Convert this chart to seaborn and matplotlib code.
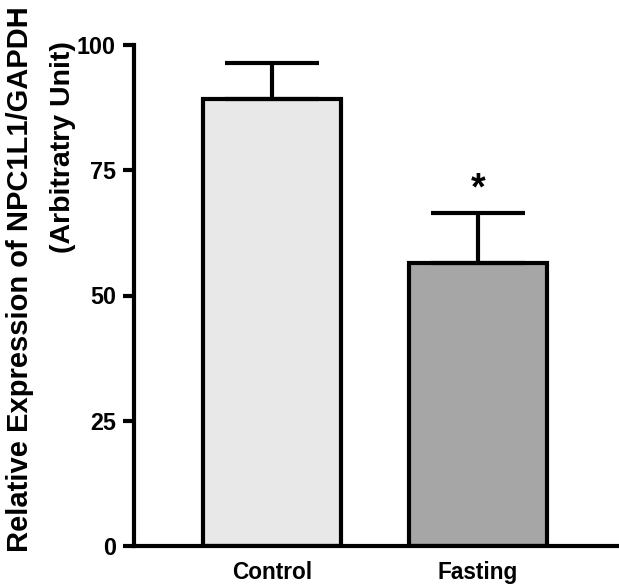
"""Bar chart: NPC1L1/GAPDH relative expression, control vs fasting."""

import matplotlib
matplotlib.use("Agg")
import matplotlib.pyplot as plt
import seaborn as sns
import pandas as pd

groups = ["Control", "Fasting"]
means = [89.3, 56.5]
errors = [7.1, 10.0]
bar_colors = ["#e8e8e8", "#a6a6a6"]
y_ticks = [0, 25, 50, 75, 100]

sns.set_style("ticks")
plt.rcParams["font.family"] = ["Liberation Sans", "DejaVu Sans"]
plt.rcParams["font.weight"] = "bold"
for key in ["text.color", "axes.edgecolor", "axes.labelcolor",
            "xtick.color", "ytick.color"]:
    plt.rcParams[key] = "black"

df = pd.DataFrame({"group": groups, "value": means})

fig = plt.figure(figsize=(6.19, 5.88), dpi=100)
ax = fig.add_axes([134 / 619, 42 / 588, 485 / 619, 501 / 588])

sns.barplot(data=df, x="group", y="value", hue="group", palette=bar_colors,
            width=0.67, edgecolor="black", linewidth=3, errorbar=None,
            legend=False, ax=ax)

# one-sided error bars (upper only)
ax.errorbar(range(len(groups)), means, yerr=[[0] * len(errors), errors],
            fmt="none", ecolor="black", elinewidth=3, capsize=34,
            capthick=3, zorder=1)

# significance marker
ax.text(1, means[1] + errors[1] + 1.0, "*", ha="center", va="bottom",
        fontsize=27, fontweight="bold")

ax.set_xlim(-0.67, 1.685)
ax.set_ylim(0, 100)
ax.set_yticks(y_ticks)
ax.tick_params(axis="y", length=8, width=3, labelsize=16.8, pad=5)
ax.tick_params(axis="x", length=0, labelsize=16.3, pad=11)
for lab in ax.get_xticklabels() + ax.get_yticklabels():
    lab.set_fontweight("bold")

ax.spines["top"].set_visible(False)
ax.spines["right"].set_visible(False)
ax.spines["left"].set_linewidth(3)
ax.spines["bottom"].set_linewidth(3)

ax.set_xlabel("")
ax.set_ylabel("")
fig.text(20 / 619, 1 - 279 / 588, "Relative Expression of NPC1L1/GAPDH",
         rotation=90, ha="center", va="center", fontsize=21, fontweight="bold")
fig.text(63 / 619, 1 - 147 / 588, "(Arbitratry Unit)",
         rotation=90, ha="center", va="center", fontsize=20.5, fontweight="bold")

fig.savefig("out.png", dpi=100)
